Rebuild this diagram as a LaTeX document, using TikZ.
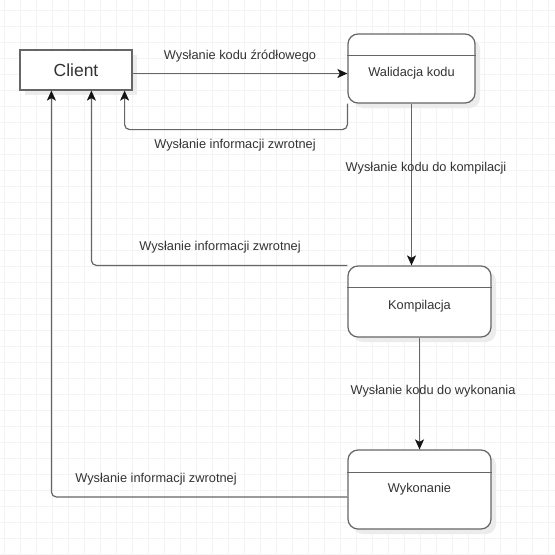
\documentclass[tikz,border=0pt]{standalone}
\usepackage{fontspec}
\setmainfont{Liberation Sans}
\usetikzlibrary{arrows.meta,shadows}

\definecolor{linegray}{RGB}{102,102,102}
\definecolor{textgray}{RGB}{51,51,51}
\definecolor{gridgray}{RGB}{243,243,243}
\definecolor{shadowgray}{RGB}{236,236,236}
\definecolor{tipgray}{RGB}{20,20,20}

\tikzset{
  boxshadow/.style={drop shadow={shadow xshift=5pt, shadow yshift=-5pt, fill=shadowgray, opacity=1}},
  actor/.style={draw=linegray, line width=1.2pt, fill=white, boxshadow, text=textgray,
    minimum width=112pt, minimum height=40pt, inner sep=0pt, font=\fontsize{17.5}{20}\selectfont},
  process/.style={draw=linegray, line width=1.2pt, fill=white, rounded corners=10pt, boxshadow,
    text=textgray, inner sep=0pt, font=\fontsize{12.8}{15}\selectfont},
  lowtext/.style={text height=19pt, text depth=2.6pt},
  divider/.style={draw=linegray, line width=1.2pt},
  flow/.style={draw=linegray, line width=1.2pt, rounded corners=5pt,
    -{Stealth[length=10pt,width=9pt,inset=2.5pt,color=tipgray]}},
  msg/.style={text=textgray, font=\fontsize{12.8}{15}\selectfont, inner sep=1pt},
}

\begin{document}
\begin{tikzpicture}[x=1pt, y=-1pt]
    \useasboundingbox (0,0) rectangle (555,555);
    \fill[white] (0,0) rectangle (555,555);

    % Grid
    \begin{scope}[shift={(4,10)}]
      \draw[gridgray, line width=0.6pt, step=16pt] (-16,-16) grid (560,560);
    \end{scope}

    % Client
    \node[actor] (client) at (76,70) {Client};

    % Steps
    \node[process, lowtext, minimum width=127pt, minimum height=69pt] (walid) at (411.5,68.5) {Walidacja kodu};
    \node[process, lowtext, minimum width=143pt, minimum height=71pt] (kompil) at (419.5,301.5) {Kompilacja};
    \node[process, minimum width=143pt, minimum height=79pt] (wykon) at (419.5,489.5) {Wykonanie};

    % Headers
    \draw[divider] ([yshift=-22pt]walid.north west) -- ([yshift=-22pt]walid.north east);
    \draw[divider] ([yshift=-22pt]kompil.north west) -- ([yshift=-22pt]kompil.north east);
    \draw[divider] ([yshift=-23pt]wykon.north west) -- ([yshift=-23pt]wykon.north east);

    % Source code
    \coordinate (srcout) at ([yshift=-3.5pt]client.east);
    \draw[flow] (srcout) -- (srcout -| walid.west);
    \node[msg] (lblsrc) at (240,56) {Wysłanie kodu źródłowego};

    % Feedback from validation
    \draw[flow] (walid.south west) -- ++(0,26) -| ([xshift=-8pt]client.south east);
    \node[msg] (lblval) at (235,145) {Wysłanie informacji zwrotnej};

    % To compilation
    \draw[flow] (walid.south) -- (walid.south |- kompil.north);
    \node[msg] (lblkomp) at (426,168) {Wysłanie kodu do kompilacji};

    % Feedback from compilation
    \draw[flow] (kompil.north west) -| ([xshift=72pt]client.south west);
    \node[msg] (lblkompback) at (220,247) {Wysłanie informacji zwrotnej};

    % To execution
    \draw[flow] (kompil.south) -- (wykon.north);
    \node[msg] (lblwyk) at (433,391) {Wysłanie kodu do wykonania};

    % Feedback from execution
    \draw[flow] ([yshift=-7.5pt]wykon.west) -| ([xshift=32pt]client.south west);
    \node[msg] (lblwykback) at (156,479) {Wysłanie informacji zwrotnej};
\end{tikzpicture}
\end{document}
